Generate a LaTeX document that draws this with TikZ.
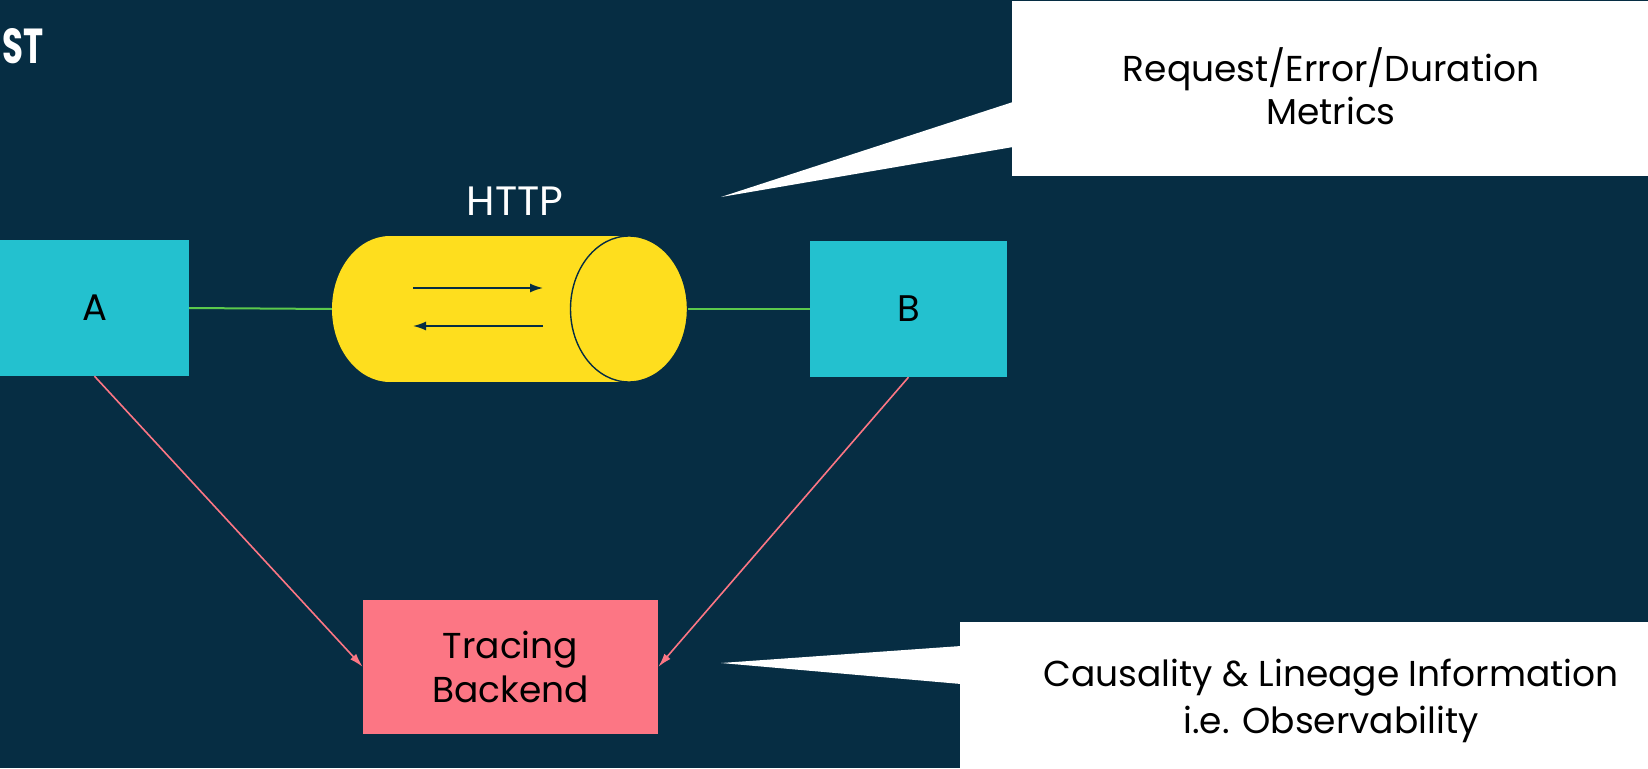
\documentclass[tikz,border=0pt]{standalone}
\usepackage{fontspec}
\usepackage{graphicx}
\setmainfont{Poppins}
\usetikzlibrary{arrows.meta}

\definecolor{navy}{HTML}{062D43}
\definecolor{cyanbox}{HTML}{23C1CF}
\definecolor{pipeyellow}{HTML}{FEDE1E}
\definecolor{rose}{HTML}{FC7684}
\definecolor{wire}{HTML}{5BC94C}

\tikzset{
  svcbox/.style={fill=cyanbox, inner sep=0pt, text=black,
    font=\fontsize{37}{44}\selectfont},
  backendbox/.style={fill=rose, inner sep=0pt, text=black, align=center,
    font=\fontsize{36}{44}\selectfont},
  wireline/.style={draw=wire, line width=2pt},
  traceline/.style={draw=rose, line width=1.6pt,
    -{Latex[length=14pt,width=8pt]}},
  flowline/.style={draw=navy, line width=1.6pt,
    -{Latex[length=13pt,width=9pt]}},
  calloutbox/.style={fill=white, inner sep=0pt},
  callouttext/.style={text=black, align=center, inner sep=0pt},
}

\begin{document}
\begin{tikzpicture}[x=1pt, y=-1pt]
  % page
  \fill[navy] (0,0) rectangle (1648,768);
  \useasboundingbox (0,0) rectangle (1648,768);

  % heading fragment
  \node[anchor=west, text=white, inner sep=0pt] (title) at (2,46)
    {\resizebox{41pt}{35pt}{\bfseries ST}};

  % services
  \node[svcbox, minimum width=189, minimum height=136] (A) at (94.5,308) {A};
  \node[svcbox, minimum width=197, minimum height=136] (B) at (908.5,309) {B};

  % HTTP pipe: body and visible end cap
  \node[inner sep=0pt, minimum width=356, minimum height=146] (pipe) at (510,309) {};
  \fill[pipeyellow] (390,309) ellipse [x radius=58, y radius=73];
  \fill[pipeyellow] (390,236) rectangle (629,382);
  \filldraw[fill=pipeyellow, draw=navy, line width=1.4pt]
    (629,309) ellipse [x radius=58.5, y radius=73];
  \coordinate (upL) at (413,288);
  \coordinate (upR) at (543,288);
  \coordinate (dnR) at (543,326);
  \coordinate (dnL) at (413,326);
  \draw[flowline] (upL) -- (upR);
  \draw[flowline] (dnR) -- (dnL);
  \node[text=white, inner sep=0pt, font=\fontsize{41}{48}\selectfont] (http) at (515,201) {HTTP};

  % wiring between services and pipe
  \draw[wireline] (A.east) -- (pipe.west);
  \draw[wireline] (pipe.east) -- (B.west);

  % tracing backend
  \node[backendbox, minimum width=295, minimum height=134] (T) at (510.5,667)
    {Tracing\\Backend};
  \draw[traceline] (A.south) -- (T.west);
  \draw[traceline] (B.south) -- (T.east);

  % callout: metrics
  \node[calloutbox, minimum width=636, minimum height=175, anchor=north west]
    (metrics) at (1012,1) {};
  \coordinate (mtip) at (721,197);
  \fill[white] (1013,102) -- (mtip) -- (1013,147) -- cycle;
  \node[callouttext, font=\fontsize{36}{43}\selectfont] (mtext) at (1331,86)
    {Request/Error/Duration\\Metrics};

  % callout: observability
  \node[calloutbox, minimum width=688, minimum height=146, anchor=north west]
    (obs) at (960,622) {};
  \coordinate (otip) at (721,663);
  \fill[white] (961,646) -- (otip) -- (961,684) -- cycle;
  \node[callouttext, font=\fontsize{36}{47}\selectfont] (otext) at (1331,701)
    {Causality \& Lineage Information\\i.e. Observability};
\end{tikzpicture}
\end{document}
